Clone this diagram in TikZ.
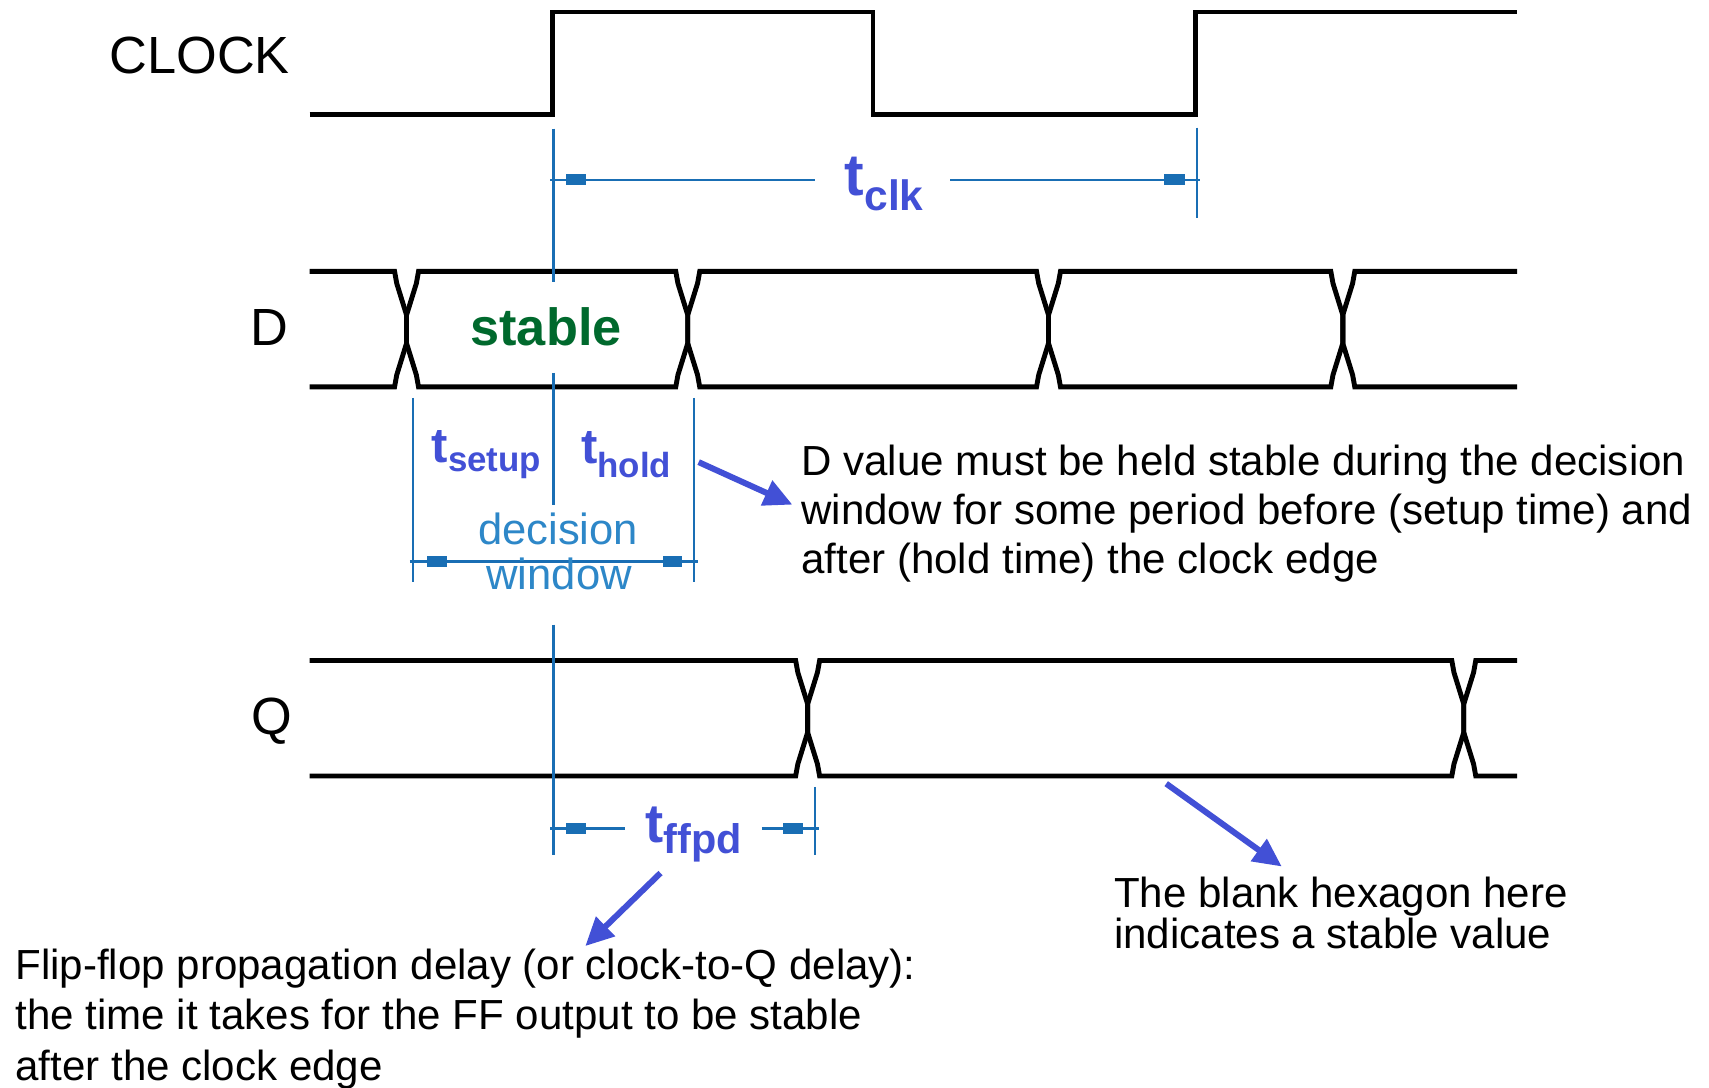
\documentclass[tikz,border=0pt]{standalone}
\usepackage{fontspec}
\setmainfont{Liberation Sans}
\usetikzlibrary{arrows.meta}
\definecolor{dimblue}{RGB}{25,110,180}
\definecolor{lblblue}{RGB}{66,80,214}
\definecolor{winblue}{RGB}{45,135,200}
\definecolor{stgreen}{RGB}{0,105,45}
\newcommand{\hexa}[4]{% xa xb top bot
  \draw[wave] (#1,{(#3+#4)/2-13}) -- (#1+9,#3+11) -- (#1+11,#3) -- (#2-11,#3) -- (#2-9,#3+11)
    -- (#2,{(#3+#4)/2-13}) -- (#2,{(#3+#4)/2+13}) -- (#2-9,#4-11) -- (#2-11,#4) -- (#1+11,#4)
    -- (#1+9,#4-11) -- (#1,{(#3+#4)/2+13}) -- cycle;}
\newcommand{\hexstart}[4]{% xs xc top bot
  \draw[wave] (#1,#3) -- (#2-11,#3) -- (#2-9,#3+11) -- (#2,{(#3+#4)/2-13}) -- (#2,{(#3+#4)/2+13})
    -- (#2-9,#4-11) -- (#2-11,#4) -- (#1,#4);}
\newcommand{\hexend}[4]{% xc xe top bot
  \draw[wave] (#2,#3) -- (#1+11,#3) -- (#1+9,#3+11) -- (#1,{(#3+#4)/2-13}) -- (#1,{(#3+#4)/2+13})
    -- (#1+9,#4-11) -- (#1+11,#4) -- (#2,#4);}
\newcommand{\dimmark}[3]{\fill[dimblue] (#1,#3-5) rectangle (#2,#3+5);}
\begin{document}
\begin{tikzpicture}[x=1pt,y=-1pt,
  wave/.style={line width=4.5pt,black,line join=miter},
  dimline/.style={line width=2.2pt,dimblue},
  callout/.style={line width=5.5pt,lblblue,-{Triangle[length=26pt,width=24pt]}},
  bodytext/.style={anchor=base west,inner sep=0pt,font=\fontsize{38.6}{45}\selectfont},
  siglabel/.style={anchor=base east,inner sep=0pt,font=\fontsize{48}{48}\selectfont},
  tlabel/.style={anchor=base west,inner sep=0pt,text=lblblue,font=\bfseries}]
\useasboundingbox (0,0) rectangle (1568,998);
\fill[white] (0,0) rectangle (1568,998);

% signal names
\node[siglabel] (clkname) at (266,67) {CLOCK};
\node[siglabel] (dname) at (265,317) {D};
\node[siglabel] (qname) at (268,674) {Q};

% clock
\draw[wave] (284,105) -- (507,105) -- (507,11) -- (801,11) -- (801,105) -- (1097,105) -- (1097,11) -- (1392,11);

% D
\hexstart{284}{373}{249}{355}
\hexa{373}{631}{249}{355}
\hexa{631}{962}{249}{355}
\hexa{962}{1232}{249}{355}
\hexend{1232}{1392}{249}{355}

% Q
\hexstart{284}{741}{606}{712}
\hexa{741}{1343}{606}{712}
\hexend{1343}{1392}{606}{712}

% stable
\node[inner sep=0pt,text=stgreen,font=\fontsize{48}{48}\selectfont\bfseries] (stable) at (501,300) {stable};

% clock edge reference line
\draw[dimline] (508,118) -- (508,259);
\draw[dimline] (508,342) -- (508,463);
\draw[dimline] (508,573) -- (508,784);

% t_clk
\draw[dimline] (1098,117) -- (1098,200);
\draw[dimline] (505,165) -- (748,165);
\draw[dimline] (872,165) -- (1101,165);
\dimmark{519}{538}{165}
\dimmark{1068}{1087}{165}
\node[tlabel] (tclk) at (775,179) {\fontsize{54}{54}\selectfont t\raisebox{-14pt}{\fontsize{39}{39}\selectfont clk}};

% decision window
\draw[dimline] (379,365) -- (379,534);
\draw[dimline] (637,365) -- (637,534);
\draw[dimline] (376,515) -- (640,515);
\dimmark{392}{410}{515}
\dimmark{608}{626}{515}
\node[tlabel] (tsetup) at (396,424) {\fontsize{45}{45}\selectfont t\raisebox{-9pt}{\fontsize{32}{32}\selectfont setup}};
\node[tlabel] (thold) at (533,425) {\fontsize{45}{45}\selectfont t\raisebox{-13pt}{\fontsize{32}{32}\selectfont hold}};
\node[anchor=base,inner sep=0pt,text=winblue,font=\fontsize{40}{40}\selectfont] (dec) at (512,500) {decision};
\node[anchor=base,inner sep=0pt,text=winblue,font=\fontsize{40}{40}\selectfont] (win) at (513,541) {window};

% t_ffpd
\draw[dimline] (748,722) -- (748,784);
\draw[dimline] (505,760) -- (573,760);
\draw[dimline] (699,760) -- (751,760);
\dimmark{519}{538}{760}
\dimmark{718}{737}{760}
\node[tlabel] (tffpd) at (592,773) {\fontsize{50}{50}\selectfont t\raisebox{-10pt}{\fontsize{38}{38}\selectfont ffpd}};

% explanatory texts
\node[bodytext] (dv1) at (735,436) {D value must be held stable during the decision};
\node[bodytext] (dv2) at (735,481) {window for some period before (setup time) and};
\node[bodytext] (dv3) at (735,526) {after (hold time) the clock edge};

\node[bodytext] (ff1) at (14,899) {Flip-flop propagation delay (or clock-to-Q delay):};
\node[bodytext] (ff2) at (14,945) {the time it takes for the FF output to be stable};
\node[bodytext] (ff3) at (14,991) {after the clock edge};

\node[bodytext] (hx1) at (1022,833) {The blank hexagon here};
\node[bodytext] (hx2) at (1022,870) {indicates a stable value};

% callout arrows
\coordinate (a1s) at (641,424);
\coordinate (a1e) at (727,463);
\coordinate (a2s) at (606,801);
\coordinate (a2e) at (537,868);
\coordinate (a3s) at (1070,719);
\coordinate (a3e) at (1176,795);
\draw[callout] (a1s) -- (a1e);
\draw[callout] (a2s) -- (a2e);
\draw[callout] (a3s) -- (a3e);
\end{tikzpicture}
\end{document}
